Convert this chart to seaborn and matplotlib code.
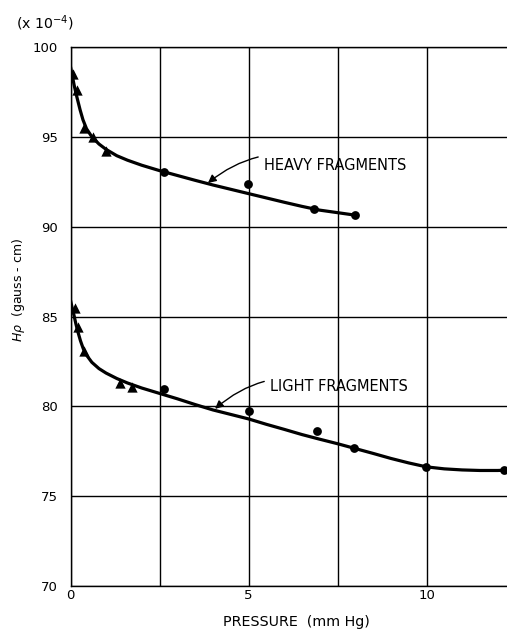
import matplotlib
matplotlib.use("Agg")
import matplotlib.pyplot as plt
import seaborn as sns
import pandas as pd

# Measured points: triangles at low pressure, circles at higher pressure
heavy_tri_p = [0.06, 0.19, 0.38, 0.64, 1.00]
heavy_tri_h = [98.5, 97.6, 95.5, 95.0, 94.2]
heavy_dot_p = [2.62, 4.98, 6.84, 7.98]
heavy_dot_h = [93.06, 92.36, 90.98, 90.65]

light_tri_p = [0.13, 0.22, 0.38, 1.39, 1.72]
light_tri_h = [85.46, 84.44, 83.08, 81.32, 81.10]
light_dot_p = [2.63, 5.00, 6.92, 7.97, 9.99, 12.18]
light_dot_h = [80.98, 79.74, 78.60, 77.67, 76.60, 76.46]

# Hand-faired curves through the data
heavy_curve_p = [0.0, 0.05, 0.1, 0.15, 0.2, 0.27, 0.35, 0.45, 0.6, 0.8, 1.0, 1.3, 1.6,
                 2.0, 2.5, 3.0, 3.5, 4.0, 4.5, 5.0, 5.5, 6.0, 6.5, 7.0, 7.5, 8.0]
heavy_curve_h = [98.9, 98.4, 97.9, 97.45, 97.05, 96.5, 95.95, 95.45, 95.0, 94.6, 94.3, 93.95, 93.7,
                 93.42, 93.12, 92.85, 92.58, 92.32, 92.08, 91.84, 91.6, 91.36, 91.13, 90.92, 90.78, 90.64]

light_curve_p = [0.0, 0.05, 0.1, 0.15, 0.2, 0.28, 0.36, 0.45, 0.6, 0.8, 1.0, 1.3, 1.6, 2.0,
                 2.5, 3.0, 3.5, 4.0, 4.5, 5.0, 5.5, 6.0, 6.5, 7.0, 7.5, 8.0, 8.5, 9.0, 9.5,
                 10.0, 10.5, 11.0, 11.5, 12.0, 12.3]
light_curve_h = [85.9, 85.45, 85.05, 84.6, 84.2, 83.65, 83.2, 82.85, 82.45, 82.1, 81.85, 81.55, 81.3, 81.02,
                 80.72, 80.42, 80.1, 79.8, 79.55, 79.3, 79.0, 78.72, 78.43, 78.17, 77.92, 77.65, 77.38, 77.1, 76.85,
                 76.63, 76.52, 76.46, 76.43, 76.43, 76.45]

x_ticks = [0, 2.5, 5, 7.5, 10]
x_tick_labels = ["0", "", "5", "", "10"]
y_ticks = [70, 75, 80, 85, 90, 95, 100]

sns.set_style("white")
plt.rcParams["font.family"] = ["DejaVu Sans"]
plt.rcParams["text.color"] = "black"
plt.rcParams["axes.labelcolor"] = "black"

fig = plt.figure(figsize=(5.07, 6.33), dpi=100)
ax = fig.add_axes([70.5 / 507, 47 / 633, 1 - 70.5 / 507, 539 / 633])

curves = pd.concat([
    pd.DataFrame({"p": heavy_curve_p, "h": heavy_curve_h, "s": "heavy"}),
    pd.DataFrame({"p": light_curve_p, "h": light_curve_h, "s": "light"}),
])
sns.lineplot(data=curves, x="p", y="h", units="s", estimator=None, sort=False,
             color="black", linewidth=2.3, ax=ax, legend=False)

tri = pd.DataFrame({"p": heavy_tri_p + light_tri_p, "h": heavy_tri_h + light_tri_h})
dots = pd.DataFrame({"p": heavy_dot_p + light_dot_p, "h": heavy_dot_h + light_dot_h})
sns.scatterplot(data=tri, x="p", y="h", marker="^", s=55, color="black",
                edgecolor="black", linewidth=0, ax=ax, zorder=4)
sns.scatterplot(data=dots, x="p", y="h", marker="o", s=40, color="black",
                edgecolor="black", linewidth=0, ax=ax, zorder=4)

ax.set_xlim(0, (507 - 70.5) / 35.6)
ax.set_ylim(70, 100)
ax.set_xticks(x_ticks)
ax.set_xticklabels(x_tick_labels)
ax.set_yticks(y_ticks)
ax.grid(True, color="black", linewidth=1.0)
ax.set_axisbelow(True)
ax.tick_params(axis="both", length=0, labelsize=9.5, colors="black")
ax.tick_params(axis="y", pad=9)
ax.tick_params(axis="x", pad=2)
for side in ["left", "bottom", "top"]:
    ax.spines[side].set_visible(True)
    ax.spines[side].set_color("black")
    ax.spines[side].set_linewidth(1.0)
ax.spines["right"].set_visible(False)
ax.set_xlabel("")
ax.set_ylabel("")

ax.annotate("HEAVY FRAGMENTS", xy=(3.86, 92.43), xytext=(5.44, 93.43),
            fontsize=10.5, va="center", ha="left", color="black",
            arrowprops=dict(arrowstyle="-|>", color="black", lw=1.0,
                            connectionstyle="arc3,rad=0.3", shrinkA=2, shrinkB=0,
                            mutation_scale=12))
ax.annotate("LIGHT FRAGMENTS", xy=(4.06, 79.86), xytext=(5.61, 81.08),
            fontsize=10.5, va="center", ha="left", color="black",
            arrowprops=dict(arrowstyle="-|>", color="black", lw=1.0,
                            connectionstyle="arc3,rad=0.3", shrinkA=2, shrinkB=0,
                            mutation_scale=12))

fig.text(45 / 507, 1 - 23 / 633, r"(x 10$^{-4}$)", fontsize=10.2, ha="center", va="center",
         color="black")
fig.text(19 / 507, 1 - 290 / 633, r"$H\rho$  (gauss - cm)", fontsize=9, rotation=90,
         ha="center", va="center", color="black")
fig.text(296 / 507, 1 - 622 / 633, "PRESSURE  (mm Hg)", fontsize=10.3, ha="center", va="center",
         color="black")

fig.savefig("out.png", dpi=100)
